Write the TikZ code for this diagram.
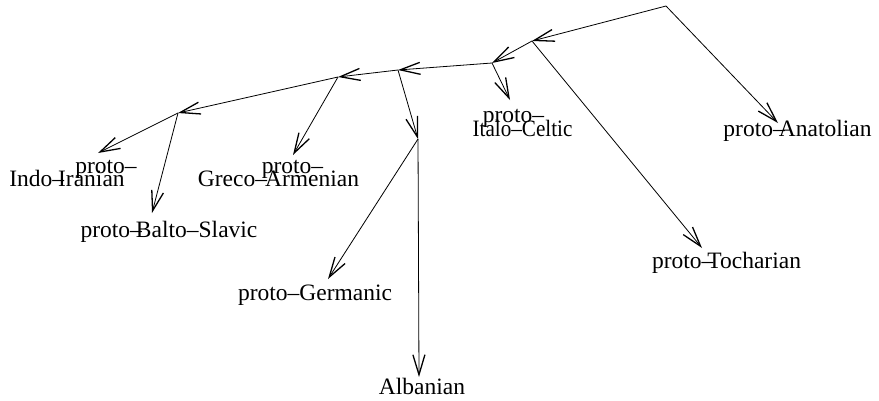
\documentclass[tikz,border=0pt]{standalone}
\usepackage{fontspec}
\setmainfont{Liberation Serif}
\usetikzlibrary{arrows.meta}
\tikzset{
  arr/.style={line width=0.8pt,-{Straight Barb[length=20pt,width=12pt,line width=1.3pt]}},
  lbl/.style={anchor=base,inner sep=0pt,font=\fontsize{23.5}{23.5}\selectfont},
}
\begin{document}
\begin{tikzpicture}[x=1pt,y=-1pt]
\useasboundingbox (0,0) rectangle (879,400);
% branch points
\coordinate (R) at (666,6);
\coordinate (B) at (532,41);
\coordinate (C) at (492,63);
\coordinate (D) at (398,70);
\coordinate (E) at (338,77);
\coordinate (F) at (178,113);
\coordinate (G) at (418,139);
% arrow tips at labels
\coordinate (tAna) at (778,123);
\coordinate (tToch) at (702,248);
\coordinate (tIta) at (510,100);
\coordinate (tGre) at (293,155);
\coordinate (tInd) at (98,153);
\coordinate (tBal) at (152,213);
\coordinate (tGer) at (328,279);
\coordinate (tAlb) at (419,377);
% labels
\node[lbl] (ana) at (797.5,136) {proto–\kern-6pt Anatolian};
\node[lbl] (toch) at (726.5,268) {proto–\kern-6pt Tocharian};
\node[lbl] (alb) at (422,394) {Albanian};
\node[lbl] (ger) at (315,300) {proto–Germanic};
\node[lbl] (bal) at (169,237) {proto–\kern-6pt Balto–Slavic};
\node[lbl] (ind1) at (106,173) {proto–};
\node[lbl] (ind2) at (67,186) {Indo–\kern-6pt Iranian};
\node[lbl] (gre1) at (292.5,173) {proto–};
\node[lbl] (gre2) at (278.5,186) {Greco–\kern-2pt Armenian};
\node[lbl] (ita1) at (513.5,122) {proto–};
\node[lbl] (ita2) at (522.5,136) {\scalebox{0.9}[1]{Italo–Celtic}};
% edges
\draw[arr] (R) -- (B);
\draw[arr] (R) -- (tAna);
\draw[arr] (B) -- (tToch);
\draw[arr] (B) -- (C);
\draw[arr] (C) -- (tIta);
\draw[arr] (C) -- (D);
\draw[arr] (D) -- (E);
\draw[arr] (D) -- (G);
\draw[arr] (E) -- (F);
\draw[arr] (E) -- (tGre);
\draw[arr] (F) -- (tInd);
\draw[arr] (F) -- (tBal);
\draw[arr] (G) -- (tGer);
\draw[arr] (G) -- (tAlb);
\end{tikzpicture}
\end{document}
